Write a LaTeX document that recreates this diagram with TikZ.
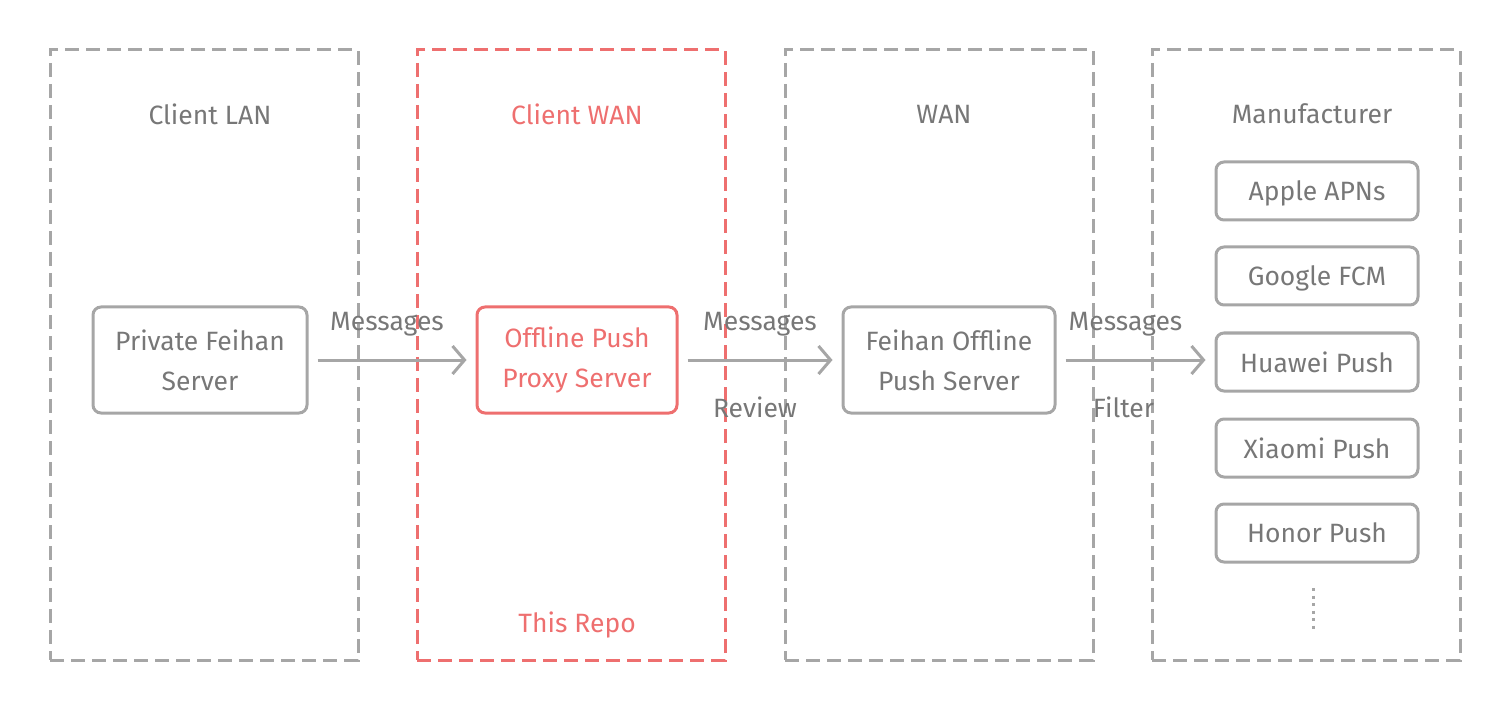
\documentclass[tikz,border=0pt]{standalone}
\usepackage{fontspec}
\setmainfont{Fira Sans}
\usetikzlibrary{arrows.meta}
\definecolor{linegray}{HTML}{A6A6A6}
\definecolor{textgray}{HTML}{777777}
\definecolor{repored}{HTML}{EE6F6F}
\tikzset{>={Straight Barb[length=12pt,width=28pt,line width=3pt]}}

\begin{document}
\begin{tikzpicture}[x=1pt,y=-1pt,font=\fontsize{26.5}{40}\selectfont,text=textgray]
    \tikzset{zone/.style={rectangle,minimum width=308pt,minimum height=610pt,draw=linegray,line width=3pt,dash pattern=on 14pt off 7pt}}
    \tikzset{server/.style={rectangle,minimum width=214pt,minimum height=106pt,rounded corners=8pt,draw=linegray,line width=3pt,align=center,inner sep=0pt}}
    \tikzset{vendor/.style={rectangle,minimum width=202pt,minimum height=58pt,rounded corners=8pt,draw=linegray,line width=3pt,inner sep=0pt,text depth=0pt}}
    \tikzset{flow/.style={->,draw=linegray,line width=3pt,shorten <=9pt,shorten >=9pt}}
    \useasboundingbox (0,0) rectangle (1510,711);
    % zones
    \draw (204,355) node[zone](lan){};
    \draw (571,355) node[zone,draw=repored](cwan){};
    \draw (939,355) node[zone](wan){};
    \draw (1306,355) node[zone](maker){};
    \draw (210,114) node(t1){Client LAN};
    \draw (577,114) node[text=repored](t2){Client WAN};
    \draw (944,114) node(t3){WAN};
    \draw (1312,114) node(t4){Manufacturer};
    \draw (577,625) node[text=repored](repo){This Repo};
    % servers
    \draw (200,360) node[server](priv){Private Feihan\\Server};
    \draw (577,360) node[server,minimum width=200pt,draw=repored,text=repored](proxy){Offline Push\\Proxy Server};
    \draw (949,360) node[server,minimum width=212pt](push){Feihan Offline\\Push Server};
    % manufacturer channels
    \draw (1317,191) node[vendor](apns){Apple APNs};
    \draw (1317,276) node[vendor](fcm){Google FCM};
    \draw (1317,362) node[vendor](huawei){Huawei Push};
    \draw (1317,448) node[vendor](xiaomi){Xiaomi Push};
    \draw (1317,533) node[vendor](honor){Honor Push};
    \coordinate (more1) at (1313,588);
    \coordinate (more2) at (1313,630);
    \draw[linegray,line width=3pt,dash pattern=on 3pt off 4.5pt] (more1) -- (more2);
    % flows
    \draw[flow](priv) -- node[above=19pt,xshift=-5pt]{Messages}(proxy);
    \draw[flow](proxy) -- node[above=19pt]{Messages} node[below=32pt,xshift=-5pt]{Review}(push);
    \draw[flow](push) -- node[above=19pt,xshift=-10pt]{Messages} node[below=32pt,xshift=-12pt]{Filter}(push -| huawei.west);
\end{tikzpicture}
\end{document}
